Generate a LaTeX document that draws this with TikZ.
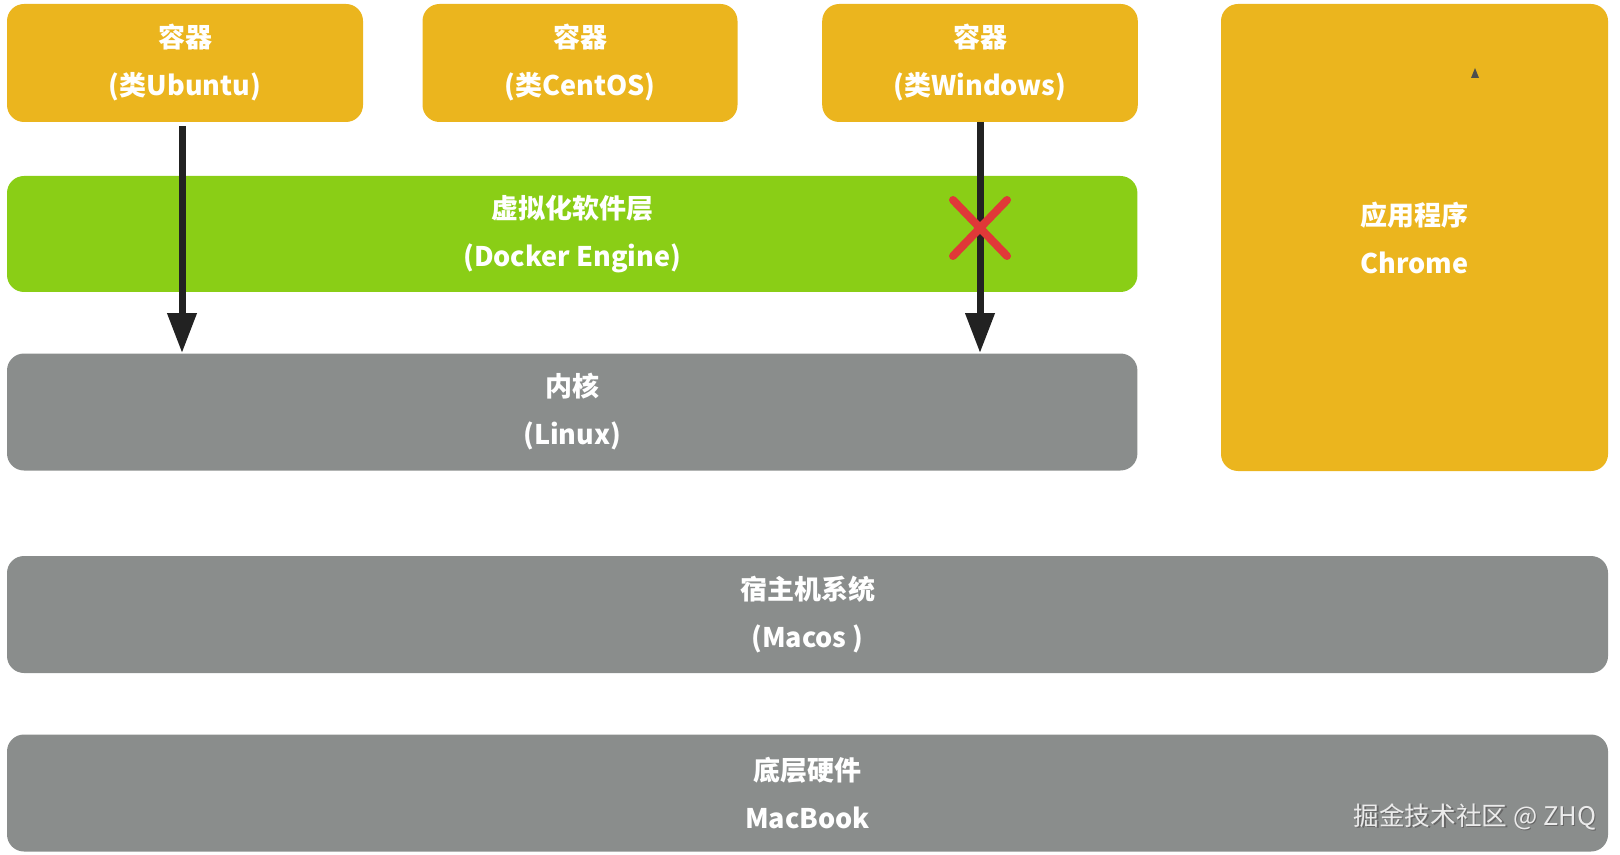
\documentclass[tikz,border=0pt]{standalone}
\usepackage{fontspec}
\setmainfont{Noto Sans CJK SC}
\usetikzlibrary{arrows.meta, positioning}
\definecolor{BoxYellow}{HTML}{EBB51E}
\definecolor{BoxGreen}{HTML}{8ACE16}
\definecolor{BoxGray}{HTML}{8A8D8C}
\definecolor{ArrowBlack}{HTML}{222222}
\definecolor{CrossRed}{HTML}{E03838}

\begin{document}
\begin{tikzpicture}[x=0.5pt, y=-0.5pt, layer/.style={rectangle, rounded corners=8.5pt, inner sep=0pt, align=center, text=white, font=\fontsize{13.5}{24}\selectfont\bfseries}, yellow box/.style={layer, fill=BoxYellow, minimum height=59pt}, green box/.style={layer, fill=BoxGreen, minimum height=58pt}, gray box/.style={layer, fill=BoxGray, minimum height=58.5pt}, link/.style={ArrowBlack, line width=3.5pt, -{Triangle[length=20pt, width=14pt]}}]

        \useasboundingbox (0,0) rectangle (1620,855);

        % containers
        \node[yellow box, minimum width=178pt] (C1) at (185,63) {容器\\(类Ubuntu)};
        \node[yellow box, minimum width=157.5pt] (C2) at (580,63) {容器\\(类CentOS)};
        \node[yellow box, minimum width=157.8pt] (C3) at (980,63) {容器\\(类Windows)};
        \node[yellow box, minimum width=193.5pt, minimum height=233.5pt] (A) at (1414.5,237.5) {应用程序\\Chrome};

        % layers
        \node[green box, minimum width=565.2pt] (E) at (572.2,234) {虚拟化软件层\\(Docker Engine)};
        \node[gray box, minimum width=565.2pt] (K) at (572.2,412) {内核\\(Linux)};
        \node[gray box, minimum width=800.5pt] (H) at (807.5,614.5) {宿主机系统\\(Macos )};
        \node[gray box, minimum width=800.5pt] (B) at (807.5,793) {底层硬件\\MacBook};

        \path
        ([xshift=-1.5pt, yshift=-2pt]C1.south) edge[link] ([xshift=-1.5pt]C1.south |- K.north)
        (C3.south) edge[link] (C3.south |- K.north)
        ;

        % blocked path
        \coordinate (X) at (980,228);
        \draw[CrossRed, line width=4pt, line cap=round]
        ([shift={(-27,-28)}]X) -- ([shift={(27,28)}]X)
        ([shift={(27,-28)}]X) -- ([shift={(-27,28)}]X);

        \fill[ArrowBlack!80] (1471,78) -- (1479,78) -- (1475,68) -- cycle;

        % watermark
        \node[anchor=east, inner sep=0pt, text=black!60, font=\fontsize{12.8}{14}\selectfont] at (1598,818) {掘金技术社区 @ ZHQ};
        \node[anchor=east, inner sep=0pt, text=white!92!black, font=\fontsize{12.8}{14}\selectfont] (W) at (1596.5,816.5) {掘金技术社区 @ ZHQ};

    \end{tikzpicture}
\end{document}
